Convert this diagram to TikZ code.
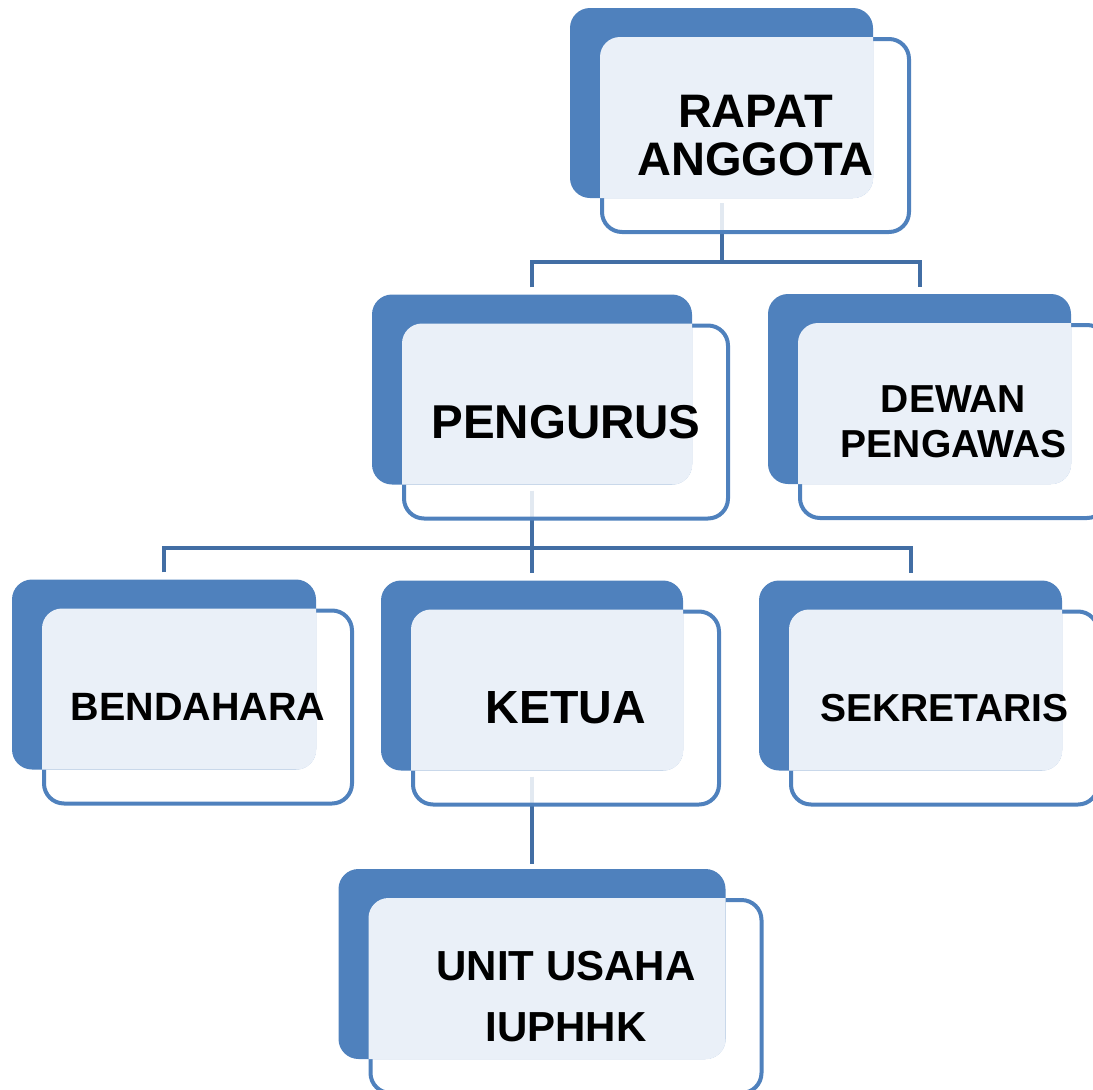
\documentclass[tikz,border=0pt]{standalone}
\usepackage{fontspec}
\setmainfont{Liberation Sans}
\pgfdeclarelayer{background}
\pgfsetlayers{background,main}
\definecolor{boxblue}{RGB}{79,129,189}
\definecolor{linkblue}{RGB}{66,110,164}
\definecolor{glazeblue}{RGB}{234,240,248}
\tikzset{
  frontbox/.style={draw=boxblue, line width=4pt, fill=white, fill opacity=0.85,
    rounded corners=20pt, inner sep=0pt, minimum height=193pt},
  backbox/.style={fill=boxblue, rounded corners=20pt, inner sep=0pt, minimum height=190pt},
  glaze/.style={fill=glazeblue, rounded corners=20pt},
  boxtext/.style={align=center, inner sep=0pt, text=black},
  link/.style={draw=linkblue, line width=4pt}
}
\begin{document}
\begin{tikzpicture}[x=1pt,y=-1pt]
    \useasboundingbox (0,0) rectangle (1093,1090);
    % boxes: name / back centre / width / font size / line skip / text
    \foreach \nm/\x/\y/\w/\fs/\ls/\txt in {
      ra/721.5/103/303/47/48/{RAPAT\\ANGGOTA},
      pg/532/389.5/320/47.5/48/{PENGURUS},
      dw/919.5/389/303/39/45/{DEWAN\\PENGAWAS},
      bd/164/674.5/304/39.5/40/{BENDAHARA},
      kt/532/675.5/302/46.5/47/{KETUA},
      sk/910.5/675.5/303/39/40/{SEKRETARIS},
      un/532/964/387/42/61/{UNIT USAHA\\IUPHHK}}
    {
    \node[frontbox, minimum width=\w+4] (\nm) at (\x+34,\y+32.5) {};
    \node[backbox, minimum width=\w] (\nm-b) at (\x,\y) {};
    \begin{scope}
      \clip[rounded corners=20pt] (\nm-b.south west) rectangle (\nm-b.north east);
      \fill[glaze] (\nm.south west) rectangle (\nm.north east);
    \end{scope}
    \node[boxtext, font={\fontsize{\fs}{\ls}\selectfont\bfseries}] (\nm-t) at (\nm.center) {\txt};
    }
    \begin{pgfonlayer}{background}
    \coordinate (busA) at ([yshift=-64pt]ra-b.south);
    \draw[link, shorten <=5pt] (ra-b.south) -- (busA);
    \draw[link, shorten <=7pt, shorten >=7pt] (pg-b.north) |- (busA) -| (dw-b.north);
    \coordinate (busB) at ([yshift=-63pt]pg-b.south);
    \draw[link, shorten <=6pt, shorten >=7pt] (pg-b.south) -- (kt-b.north);
    \draw[link, shorten <=7pt, shorten >=7pt] (bd-b.north) |- (busB) -| (sk-b.north);
    \draw[link, shorten <=6pt, shorten >=5pt] (kt-b.south) -- (un-b.north);
    \end{pgfonlayer}
\end{tikzpicture}
\end{document}
